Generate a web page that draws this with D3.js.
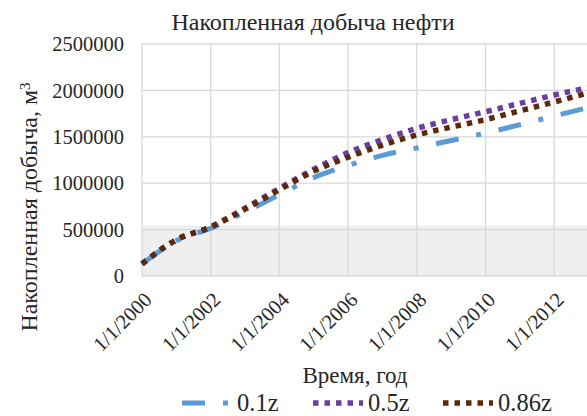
<!DOCTYPE html>
<html>
<head>
<meta charset="utf-8">
<script src="https://cdn.jsdelivr.net/npm/d3@7"></script>
</head>
<body style="margin:0;background:#fff">
<svg id="chart" width="587" height="416"></svg>
<script>
// data (cumulative oil, m3, on 1 Jan of each year)
const years = [2000, 2001, 2002, 2003, 2004, 2005, 2006, 2007, 2008, 2009, 2010, 2011, 2012, 2013];
const s01z  = [130000, 380000, 515000, 690000, 875000, 1060000, 1190000, 1300000, 1380000, 1460000, 1540000, 1630000, 1725000, 1815000];
const s05z  = [130000, 390000, 530000, 730000, 945000, 1150000, 1330000, 1470000, 1590000, 1685000, 1770000, 1860000, 1950000, 2030000];
const s086z = [130000, 390000, 528000, 720000, 930000, 1130000, 1280000, 1410000, 1520000, 1605000, 1685000, 1780000, 1875000, 1975000];
const seriesNames = ["0.1z", "0.5z", "0.86z"];
const yTicks = [0, 500000, 1000000, 1500000, 2000000, 2500000];
const xTickYears = [2000, 2002, 2004, 2006, 2008, 2010, 2012];
const bandTop = 545000;

const svg = d3.select("#chart");
const plotLeft = 142, plotTop = 44, plotBottom = 276;
const pxPerYear = 34.35;
const serif = "'Liberation Serif'";
const ink = "#262626";

const x = d3.scaleTime()
  .domain([new Date(2000, 0, 1), new Date(2014, 0, 1)])
  .range([plotLeft, plotLeft + pxPerYear * 14]);
const y = d3.scaleLinear().domain([0, 2500000]).range([plotBottom, plotTop]);

// grey band
svg.append("rect")
  .attr("x", plotLeft).attr("y", y(bandTop))
  .attr("width", 600).attr("height", plotBottom - y(bandTop))
  .attr("fill", "#efefef");

// grid
svg.append("g").selectAll("line").data(yTicks).enter().append("line")
  .attr("x1", plotLeft).attr("x2", 600)
  .attr("y1", d => y(d)).attr("y2", d => y(d))
  .attr("stroke", "#d9d9d9").attr("stroke-width", 1.3);
svg.append("g").selectAll("line").data(xTickYears).enter().append("line")
  .attr("x1", d => x(new Date(d, 0, 1))).attr("x2", d => x(new Date(d, 0, 1)))
  .attr("y1", plotTop).attr("y2", plotBottom)
  .attr("stroke", "#d9d9d9").attr("stroke-width", 1.3);

// y tick labels
svg.append("g").selectAll("text").data(yTicks).enter().append("text")
  .attr("x", 124).attr("y", d => y(d)).attr("dy", "0.35em")
  .attr("text-anchor", "end")
  .style("font-family", serif).style("font-size", "20.5px").style("fill", ink)
  .text(d => d);

// x tick labels
svg.append("g").selectAll("text").data(xTickYears).enter().append("text")
  .attr("text-anchor", "end")
  .style("font-family", serif).style("font-size", "20.5px").style("fill", ink)
  .attr("transform", d => `translate(${x(new Date(d, 0, 1)) + 11},${plotBottom + 25}) rotate(-45)`)
  .text(d => "1/1/" + d);

// series
const line = d3.line()
  .x((d, i) => x(new Date(years[i], 0, 1)))
  .y(d => y(d))
  .curve(d3.curveMonotoneX);

const styles = [
  { color: "#5b9bd5", width: 5, dash: "23,18,5,18" },
  { color: "#6b3fa0", width: 5.5, dash: "5.5,6" },
  { color: "#5c2a0a", width: 5.5, dash: "5.5,6" }
];
const allSeries = [s01z, s05z, s086z];

allSeries.forEach((s, i) => {
  svg.append("path")
    .attr("d", line(s))
    .attr("fill", "none")
    .attr("stroke", styles[i].color)
    .attr("stroke-width", styles[i].width)
    .attr("stroke-dasharray", styles[i].dash);
});

// titles
svg.append("text").attr("x", 313).attr("y", 30)
  .attr("text-anchor", "middle")
  .style("font-family", serif).style("font-size", "24px").style("fill", ink)
  .text("Накопленная добыча нефти");

svg.append("text").attr("x", 355).attr("y", 383)
  .attr("text-anchor", "middle")
  .style("font-family", serif).style("font-size", "23px").style("fill", ink)
  .text("Время, год");

const yTitle = svg.append("text")
  .attr("transform", "translate(37,207) rotate(-90)")
  .attr("text-anchor", "middle")
  .style("font-family", serif).style("font-size", "24px").style("fill", ink);
yTitle.append("tspan").text("Накопленная добыча, м");
yTitle.append("tspan").attr("dy", "-0.45em").style("font-size", "15px").text("3");

// legend
const legX = [182, 313, 443];
seriesNames.forEach((n, i) => {
  svg.append("line")
    .attr("x1", legX[i]).attr("x2", legX[i] + 50)
    .attr("y1", 403).attr("y2", 403)
    .attr("stroke", styles[i].color)
    .attr("stroke-width", styles[i].width)
    .attr("stroke-dasharray", styles[i].dash);
  svg.append("text")
    .attr("x", legX[i] + 55).attr("y", 411)
    .style("font-family", serif).style("font-size", "24.5px").style("fill", ink)
    .text(n);
});
</script>
</body>
</html>
